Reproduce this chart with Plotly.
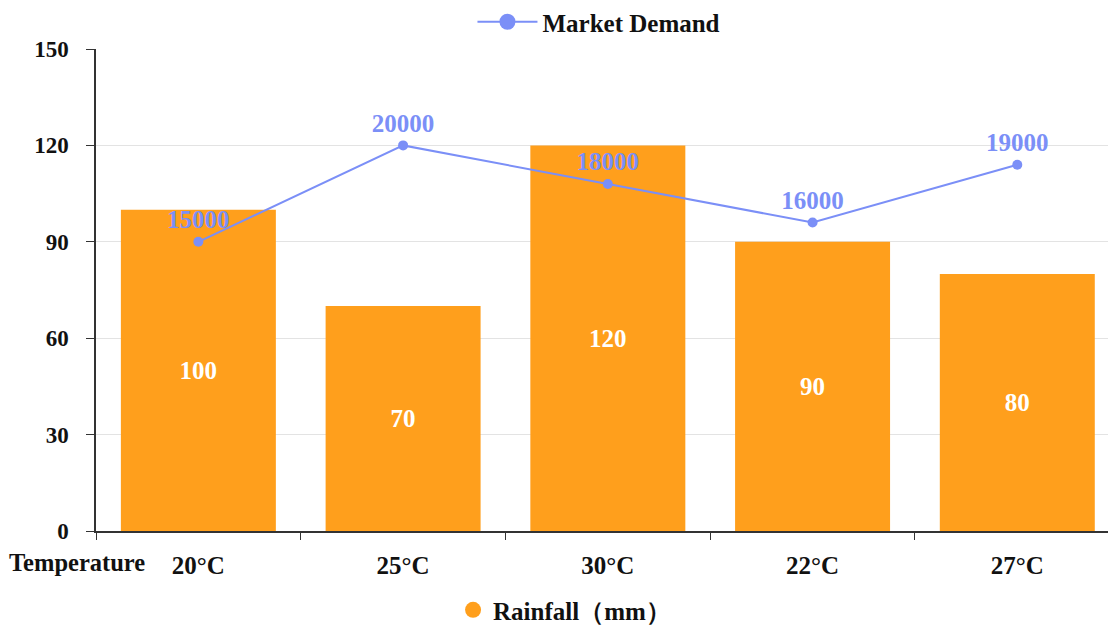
import plotly.graph_objects as go

categories = ["20°C", "25°C", "30°C", "22°C", "27°C"]
rainfall = [100, 70, 120, 90, 80]
demand = [15000, 20000, 18000, 16000, 19000]
y_ticks = [0, 30, 60, 90, 120, 150]

BAR = "#FF9F1C"
LINE = "#7B8FF7"
FONT = "Liberation Serif"

fig = go.Figure()
fig.add_trace(go.Bar(
    x=categories, y=rainfall, name="Rainfall（mm）",
    marker=dict(color=BAR, line=dict(width=0)), text=rainfall, textposition="inside",
    insidetextanchor="middle", textangle=0,
    textfont=dict(color="white", size=25, family=FONT, weight="bold"),
    showlegend=False, yaxis="y",
))
fig.add_trace(go.Scatter(
    x=[None], y=[None], mode="markers", name="Rainfall（mm）",
    marker=dict(color=BAR, size=22, symbol="circle"), legend="legend2", yaxis="y",
))
fig.add_trace(go.Scatter(
    x=categories, y=demand, name="Market Demand", mode="lines+markers+text",
    line=dict(color=LINE, width=2), marker=dict(color=LINE, size=10),
    text=[str(v) for v in demand], textposition="top center",
    textfont=dict(color=LINE, size=25, family=FONT, weight="bold"),
    yaxis="y2", showlegend=False,
))
fig.add_trace(go.Scatter(
    x=[None], y=[None], name="Market Demand", mode="lines+markers",
    line=dict(color=LINE, width=2), marker=dict(color=LINE, size=22),
    yaxis="y2", legend="legend",
))

fig.update_layout(
    width=1108, height=628,
    margin=dict(l=96, r=0, t=49, b=97, autoexpand=False),
    plot_bgcolor="white", paper_bgcolor="white",
    font=dict(family=FONT, size=20, color="#111111", weight="bold"),
    bargap=0.243,
    xaxis=dict(
        range=[-0.5, 4.443],
        showline=True, linecolor="#333333", linewidth=1.5,
        ticks="outside", tickson="boundaries", ticklen=7, tickcolor="#333333",
        tickfont=dict(size=25, family=FONT, weight="bold"), ticklabelstandoff=11,
        showgrid=False,
    ),
    yaxis=dict(
        range=[0, 150], tickvals=y_ticks, showline=True, linecolor="#333333", linewidth=1.5,
        ticks="outside", ticklen=8, tickcolor="#333333",
        gridcolor="#E3E3E3", gridwidth=1.2, zeroline=False,
        tickfont=dict(size=23, family=FONT, weight="bold"), ticklabelstandoff=13,
    ),
    yaxis2=dict(range=[0, 25000], overlaying="y", side="right", visible=False, showgrid=False),
    legend=dict(
        orientation="h", x=0.497, xanchor="center", y=1.056, yanchor="middle",
        font=dict(size=25, family=FONT, weight="bold"), itemwidth=60,
    ),
    legend2=dict(
        orientation="h", x=0.463, xanchor="center", y=-0.164, yanchor="middle",
        font=dict(size=25, family=FONT, weight="bold"),
    ),
    annotations=[dict(
        text="Temperature", xref="paper", yref="paper", x=-0.088, y=-0.066,
        xanchor="left", yanchor="middle", showarrow=False,
        font=dict(size=24.5, family=FONT, weight="bold", color="#111111"),
    )],
)

fig.write_html("out.html")
